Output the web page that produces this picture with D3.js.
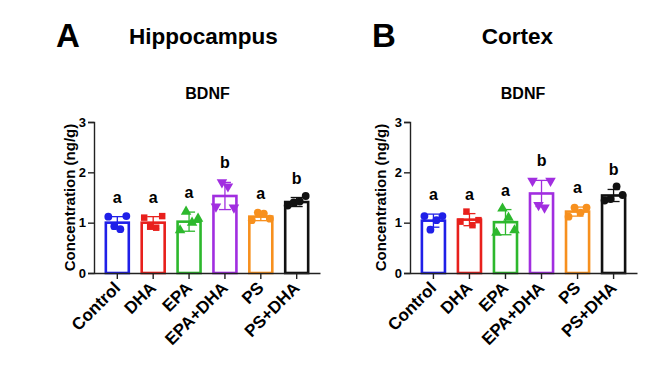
<!DOCTYPE html>
<html>
<head>
<meta charset="utf-8">
<script src="https://cdn.jsdelivr.net/npm/d3@7"></script>
<style>
  body { margin: 0; background: #fff; }
  text { font-family: "Liberation Sans", Arial, sans-serif; font-weight: bold; }
</style>
</head>
<body>
<div id="myplot"></div>
<script>
// data
var groups = ["Control", "DHA", "EPA", "EPA+DHA", "PS", "PS+DHA"];
var colors = ["#1f1fe8", "#e8201c", "#2db82d", "#a12ee0", "#f7901e", "#111111"];
var yTicks = [0, 1, 2, 3];

var hippMeans = [1.0, 1.0, 1.02, 1.53, 1.12, 1.41];
var hippSD = [0.12, 0.12, 0.19, 0.27, 0.08, 0.09];
var hippPoints = [[1.12, 0.93, 0.87, 1.13], [1.10, 0.92, 0.90, 1.13], [0.85, 1.22, 1.0, 1.08],
                  [1.32, 1.80, 1.72, 1.30], [1.05, 1.20, 1.18, 1.08], [1.34, 1.40, 1.42, 1.53]];
var hippLetters = ["a", "a", "a", "b", "a", "b"];

var ctxMeans = [1.04, 1.06, 1.01, 1.58, 1.22, 1.54];
var ctxSD = [0.13, 0.12, 0.25, 0.26, 0.09, 0.12];
var ctxPoints = [[1.13, 0.86, 1.05, 1.13], [1.02, 1.22, 0.95, 1.05], [0.80, 1.28, 1.10, 0.85],
                 [1.83, 1.35, 1.30, 1.83], [1.12, 1.30, 1.20, 1.30], [1.44, 1.47, 1.72, 1.55]];
var ctxLetters = ["a", "a", "a", "b", "a", "b"];

var shapes = [d3.symbolCircle, d3.symbolSquare, d3.symbolTriangle, d3.symbolTriangle, d3.symbolCircle, d3.symbolCircle];

var svg = d3.select('div#myplot')
  .append('svg')
  .attr('width', 650)
  .attr('height', 370);

svg.append("rect").attr("width", 650).attr("height", 370).attr("fill", "#fff");

function panel(letter, title, left, right, means, sds, points, letters, labelX, titleX, subX) {
  var g = svg.append("g");
  var x = d3.scaleBand().domain(groups).range([left, right]).paddingInner(0.36).paddingOuter(0.33);
  var y = d3.scaleLinear().domain([0, 3]).range([273, 122]);
  var jit = d3.scalePoint().domain(d3.range(4)).range([-9, 9]);

  g.append("text").text(letter).attr("x", left - 38).attr("y", 47).attr("font-size", 33);
  g.append("text").text(title).attr("x", titleX).attr("y", 44)
    .attr("text-anchor", "middle").attr("font-size", 22.5);
  g.append("text").text("BDNF").attr("x", subX).attr("y", 99)
    .attr("text-anchor", "middle").attr("font-size", 16);

  // bars
  g.selectAll("rect.bar").data(means).enter().append("rect")
    .attr("class", "bar")
    .attr("x", (d, i) => x(groups[i]))
    .attr("y", d => y(d))
    .attr("width", x.bandwidth())
    .attr("height", d => y(0) - y(d))
    .attr("fill", "none")
    .attr("stroke", (d, i) => colors[i])
    .attr("stroke-width", 2.6);

  // error bars
  var eb = g.selectAll("g.err").data(means).enter().append("g").attr("class", "err")
    .attr("stroke", (d, i) => colors[i]).attr("stroke-width", 1.3);
  eb.append("line")
    .attr("x1", (d, i) => x(groups[i]) + x.bandwidth() / 2)
    .attr("x2", (d, i) => x(groups[i]) + x.bandwidth() / 2)
    .attr("y1", (d, i) => y(d - sds[i]))
    .attr("y2", (d, i) => y(d + sds[i]));
  eb.append("line")
    .attr("x1", (d, i) => x(groups[i]) + x.bandwidth() / 2 - 6)
    .attr("x2", (d, i) => x(groups[i]) + x.bandwidth() / 2 + 6)
    .attr("y1", (d, i) => y(d + sds[i]))
    .attr("y2", (d, i) => y(d + sds[i]));
  eb.append("line")
    .attr("x1", (d, i) => x(groups[i]) + x.bandwidth() / 2 - 6)
    .attr("x2", (d, i) => x(groups[i]) + x.bandwidth() / 2 + 6)
    .attr("y1", (d, i) => y(d - sds[i]))
    .attr("y2", (d, i) => y(d - sds[i]));

  // points
  points.forEach(function (pts, i) {
    g.selectAll(null).data(pts).enter().append("path")
      .attr("d", d3.symbol().type(shapes[i]).size(i == 1 ? 42 : 48))
      .attr("transform", (d, j) => "translate(" + (x(groups[i]) + x.bandwidth() / 2 + jit(j)) + "," + y(d) + ")" + (i == 3 ? " rotate(180)" : ""))
      .attr("fill", colors[i]);
  });

  // significance letters
  g.selectAll("text.sig").data(letters).enter().append("text")
    .attr("class", "sig")
    .attr("x", (d, i) => x(groups[i]) + x.bandwidth() / 2)
    .attr("y", (d, i) => y(means[i] + sds[i]) - 14)
    .attr("text-anchor", "middle")
    .attr("font-size", 16)
    .text(d => d);

  // axes
  var yAxis = g.append("g").attr("transform", "translate(" + left + ",0)")
    .call(d3.axisLeft(y).tickValues(yTicks).tickSize(6).tickPadding(2).tickFormat(d3.format("d")));
  yAxis.selectAll("text").attr("font-size", 13).attr("fill", "#000");
  yAxis.selectAll("line, path").attr("stroke", "#222").attr("stroke-width", 1.4);

  var xAxis = g.append("g").attr("transform", "translate(0,273)")
    .call(d3.axisBottom(x).tickSize(6).tickSizeOuter(0));
  xAxis.select("path").attr("stroke", "#222").attr("stroke-width", 1.4);
  xAxis.selectAll("line").attr("stroke", "#222").attr("stroke-width", 1.4);
  xAxis.selectAll(".tick text")
    .attr("font-size", 17)
    .attr("fill", "#000")
    .attr("text-anchor", "end")
    .attr("dy", 0)
    .attr("y", 0).attr("x", 0)
    .attr("transform", "translate(4,16) rotate(-45)");

  g.append("text").text("Concentration (ng/g)")
    .attr("transform", "translate(" + labelX + "," + y(1.5) + ") rotate(-90)")
    .attr("text-anchor", "middle")
    .attr("font-size", 15);
}

panel("A", "Hippocampus", 94, 320, hippMeans, hippSD, hippPoints, hippLetters, 75, 203.5, 207.5);
panel("B", "Cortex", 410, 637, ctxMeans, ctxSD, ctxPoints, ctxLetters, 386, 517.5, 523);
</script>
</body>
</html>
